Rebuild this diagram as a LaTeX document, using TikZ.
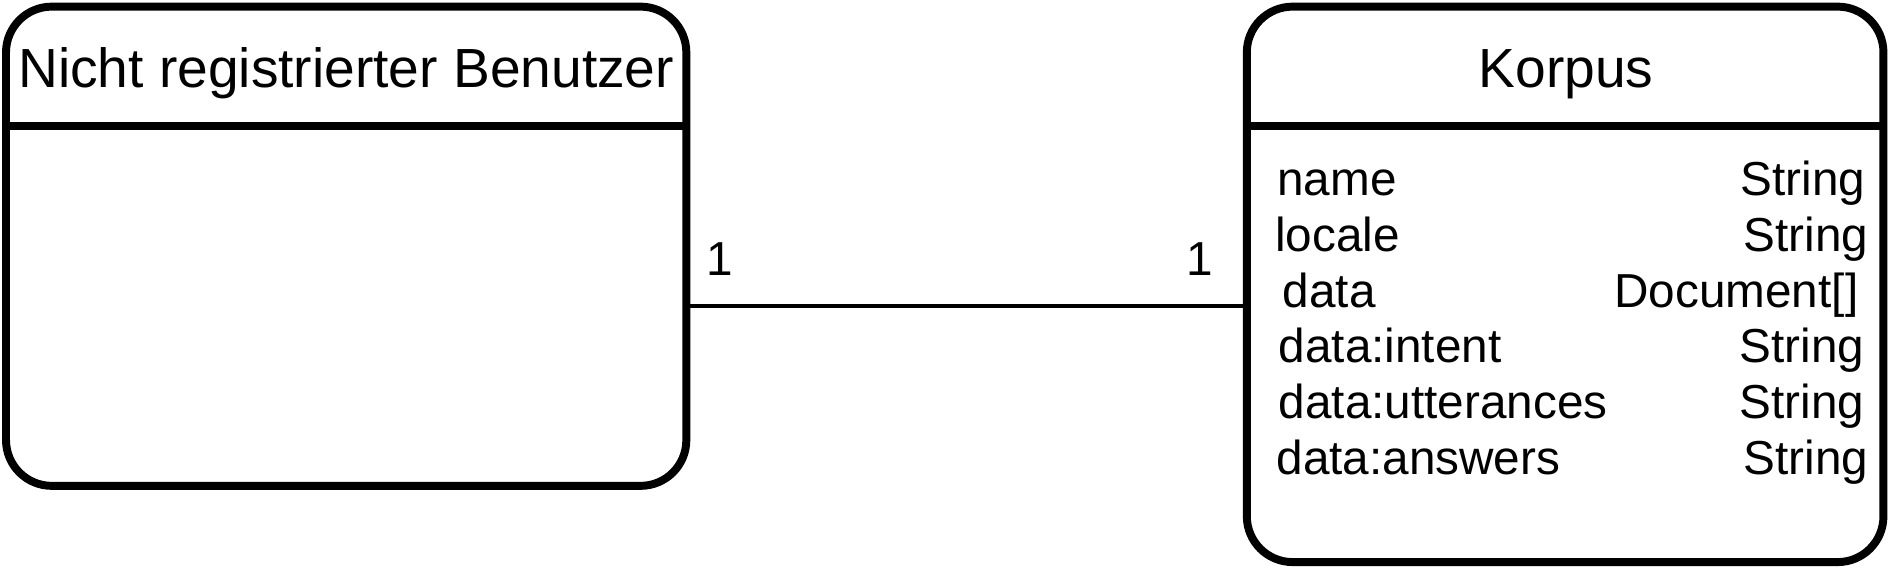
\documentclass[tikz,border=0pt]{standalone}
\usepackage{fontspec}
\setmainfont{Liberation Sans}

\begin{document}
\begin{tikzpicture}[x=0.5pt, y=-0.5pt,
    entity/.style = {draw, line width=3.3pt, rounded corners=19pt,
        inner sep=0pt, outer sep=0pt, anchor=north west},
    title/.style = {font=\fontsize{22.9}{27}\selectfont, anchor=base},
    attr/.style = {font=\fontsize{19.8}{23}\selectfont, inner sep=0pt},
    mult/.style = {font=\fontsize{19.8}{23}\selectfont, inner sep=0pt, anchor=base}]
\useasboundingbox (0,0) rectangle (1568,472);
\coordinate (hdr) at (0,105);
\coordinate (link) at (0,254);
\node[entity, minimum width=282.5pt, minimum height=199pt] (user) at (5,5.5) {};
\node[entity, minimum width=264.35pt, minimum height=230.65pt] (korpus) at (1035.5,5.5) {};
\draw[line width=3.3pt] (user.west |- hdr) -- (user.east |- hdr);
\draw[line width=3.3pt] (korpus.west |- hdr) -- (korpus.east |- hdr);
\node[title] (userTitle) at (287.5,72.5) {Nicht registrierter Benutzer};
\node[title] (korpusTitle) at (1300.5,72.5) {Korpus};
\node[attr, anchor=base west] (nameKey) at (1060.5,162) {name};
\node[attr, anchor=base east] (nameType) at (1549.6,162) {String};
\node[attr, anchor=base west] (localeKey) at (1058.7,208.5) {locale};
\node[attr, anchor=base east] (localeType) at (1552,208.5) {String};
\node[attr, anchor=base west] (dataKey) at (1065,255) {data};
\node[attr, anchor=base east] (dataType) at (1543.7,255) {Document[]};
\node[attr, anchor=base west] (intentKey) at (1061.6,301) {data:intent};
\node[attr, anchor=base east] (intentType) at (1548.5,301) {String};
\node[attr, anchor=base west] (uttKey) at (1061.6,347.5) {data:utterances};
\node[attr, anchor=base east] (uttType) at (1548.5,347.5) {String};
\node[attr, anchor=base west] (answersKey) at (1059.8,394) {data:answers};
\node[attr, anchor=base east] (answersType) at (1552,394) {String};
\draw[line width=1.7pt] (user.east |- link) -- (korpus.west |- link);
\node[mult] (multUser) at (598,228.7) {1};
\node[mult] (multKorpus) at (996,228.7) {1};
\end{tikzpicture}
\end{document}
